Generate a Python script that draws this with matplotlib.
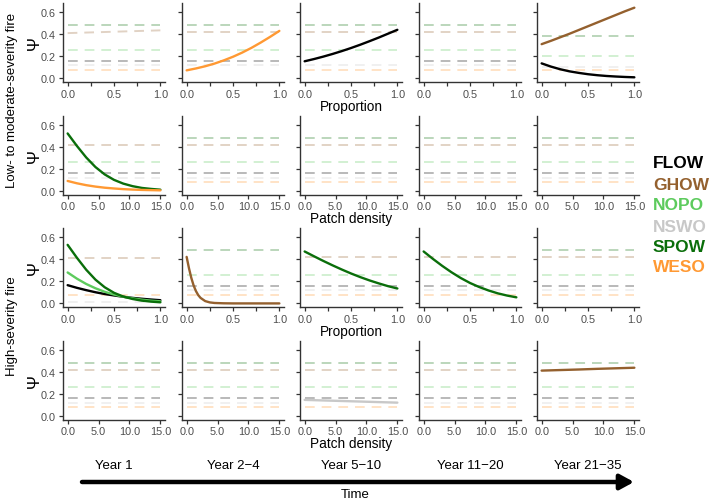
import matplotlib
matplotlib.use("Agg")
import matplotlib.pyplot as plt
from matplotlib.patches import FancyArrowPatch

plt.rcParams['font.family'] = ['Liberation Sans', 'DejaVu Sans']
plt.rcParams['lines.scale_dashes'] = False

# ---------------- data ----------------
species = ['FLOW', 'GHOW', 'NOPO', 'NSWO', 'SPOW', 'WESO']
species_colors = ['#000000', '#94602E', '#5DCB5D', '#C8C8C8', '#0A6E0A', '#FF9933']
periods = ['Year 1', 'Year 2\u22124', 'Year 5\u221210', 'Year 11\u221220', 'Year 21\u221235']
row_covariates = ['Proportion', 'Patch density', 'Proportion', 'Patch density']
fire_groups = ['Low- to moderate-severity fire', 'High-severity fire']

prop_x = [0.0, 0.1, 0.2, 0.3, 0.4, 0.5, 0.6, 0.7, 0.8, 0.9, 1.0]
dens_x = [0.0, 1.5, 3.0, 4.5, 6.0, 7.5, 9.0, 10.5, 12.0, 13.5, 15.0]
prop_x_fine = [0.0, 0.025, 0.05, 0.075, 0.1, 0.125, 0.15, 0.2, 0.25, 0.3, 0.4, 0.5, 0.6, 0.7, 0.8, 0.9, 1.0]
dens_x_coarse = [0.0, 3.0, 6.0, 9.0, 12.0, 15.0]

# Low/moderate severity, proportion
lm_prop_y2_WESO = [0.073, 0.090, 0.110, 0.134, 0.163, 0.196, 0.234, 0.277, 0.325, 0.376, 0.430]
lm_prop_y5_FLOW = [0.155, 0.175, 0.197, 0.221, 0.247, 0.275, 0.305, 0.337, 0.370, 0.405, 0.440]
lm_prop_y21_GHOW = [0.310, 0.340, 0.372, 0.404, 0.438, 0.472, 0.506, 0.540, 0.574, 0.608, 0.640]
lm_prop_y21_FLOW = [0.136, 0.107, 0.083, 0.064, 0.050, 0.038, 0.029, 0.022, 0.017, 0.013, 0.010]
# Low/moderate severity, patch density
lm_dens_y1_SPOW = [0.520, 0.407, 0.303, 0.216, 0.149, 0.100, 0.066, 0.043, 0.027, 0.018, 0.011]
lm_dens_y1_WESO = [0.090, 0.069, 0.052, 0.039, 0.029, 0.022, 0.016, 0.012, 0.009, 0.007, 0.005]
# High severity, proportion
hs_prop_y1_SPOW = [0.530, 0.413, 0.305, 0.215, 0.146, 0.096, 0.062, 0.040, 0.025, 0.016, 0.010]
hs_prop_y1_NOPO = [0.280, 0.224, 0.176, 0.137, 0.105, 0.080, 0.060, 0.046, 0.034, 0.025, 0.019]
hs_prop_y1_FLOW = [0.165, 0.141, 0.120, 0.101, 0.085, 0.072, 0.060, 0.050, 0.042, 0.035, 0.029]
hs_prop_y2_GHOW = [0.421, 0.319, 0.232, 0.163, 0.112, 0.075, 0.050, 0.021, 0.009, 0.004, 0.001,
                   0.0, 0.0, 0.0, 0.0, 0.0, 0.0]
hs_prop_y5_SPOW = [0.470, 0.427, 0.385, 0.345, 0.307, 0.271, 0.238, 0.208, 0.181, 0.156, 0.135]
hs_prop_y11_SPOW = [0.470, 0.403, 0.340, 0.282, 0.230, 0.185, 0.148, 0.117, 0.091, 0.071, 0.055]
# High severity, patch density
hs_dens_y5_NSWO = [0.145, 0.140, 0.135, 0.130, 0.125, 0.120]
hs_dens_y21_GHOW = [0.410, 0.415, 0.420, 0.426, 0.431, 0.436]

# (row, col, species, x values, y values)
solid_curves = [
    (0, 1, 'WESO', prop_x, lm_prop_y2_WESO),
    (0, 2, 'FLOW', prop_x, lm_prop_y5_FLOW),
    (0, 4, 'GHOW', prop_x, lm_prop_y21_GHOW),
    (0, 4, 'FLOW', prop_x, lm_prop_y21_FLOW),
    (1, 0, 'SPOW', dens_x, lm_dens_y1_SPOW),
    (1, 0, 'WESO', dens_x, lm_dens_y1_WESO),
    (2, 0, 'FLOW', prop_x, hs_prop_y1_FLOW),
    (2, 0, 'NOPO', prop_x, hs_prop_y1_NOPO),
    (2, 0, 'SPOW', prop_x, hs_prop_y1_SPOW),
    (2, 1, 'GHOW', prop_x_fine, hs_prop_y2_GHOW),
    (2, 2, 'SPOW', prop_x, hs_prop_y5_SPOW),
    (2, 3, 'SPOW', prop_x, hs_prop_y11_SPOW),
    (3, 2, 'NSWO', dens_x_coarse, hs_dens_y5_NSWO),
    (3, 4, 'GHOW', dens_x_coarse, hs_dens_y21_GHOW),
]

# non-significant (dashed) predictions: start / end value
dashed_base = {'SPOW': (0.48, 0.48), 'GHOW': (0.42, 0.42), 'NOPO': (0.26, 0.26),
               'FLOW': (0.16, 0.16), 'NSWO': (0.12, 0.12), 'WESO': (0.08, 0.08)}
dashed_override = {
    (0, 0): {'GHOW': (0.41, 0.435)},
    (0, 4): {'SPOW': (0.38, 0.38), 'NOPO': (0.20, 0.20), 'NSWO': (0.10, 0.10), 'WESO': (0.075, 0.075)},
    (2, 0): {'GHOW': (0.41, 0.41), 'NSWO': (0.01, 0.01), 'WESO': (0.075, 0.075)},
}

# ---------------- layout ----------------
W, H = 709, 502
fig = plt.figure(figsize=(W / 100, H / 100), dpi=100)
col_left = [63, 182, 300, 419, 537]
row_bottom = [83, 195.5, 308, 420.5]
ax_w, ax_h = 102, 79

color_of = dict(zip(species, species_colors))
ylim = (-0.0325, 0.6825)

for r in range(4):
    is_prop = row_covariates[r] == 'Proportion'
    xmax = 1.0 if is_prop else 15.0
    for c in range(5):
        ax = fig.add_axes([col_left[c] / W, 1 - row_bottom[r] / H, ax_w / W, ax_h / H])
        solid_here = [s for (rr, cc, s, _, _) in solid_curves if rr == r and cc == c]
        ov = dashed_override.get((r, c), {})
        for s in species:
            if s in solid_here:
                continue
            y0, y1 = ov.get(s, dashed_base[s])
            ax.plot([0, xmax], [y0, y1], color=color_of[s], alpha=0.28, lw=1.4,
                    dashes=(7, 5), solid_capstyle='butt', dash_capstyle='butt')
        for (rr, cc, s, xs, ys) in solid_curves:
            if rr == r and cc == c:
                ax.plot(xs, ys, color=color_of[s], lw=1.7, solid_capstyle='round')
        ax.set_xlim(-0.05 * xmax, 1.05 * xmax)
        ax.set_ylim(*ylim)
        if is_prop:
            ax.set_xticks([0, 0.25, 0.5, 0.75, 1.0])
            ax.set_xticklabels(['0.0', '', '0.5', '', '1.0'])
        else:
            ax.set_xticks([0, 5, 10, 15])
            ax.set_xticklabels(['0.0', '5.0', '10.0', '15.0'])
        ax.set_yticks([0, 0.2, 0.4, 0.6])
        if c == 0:
            ax.set_yticklabels(['0.0', '0.2', '0.4', '0.6'])
            ax.set_ylabel('\u03a8', fontsize=12, rotation=90)
            ax.yaxis.set_label_coords(-0.21, 0.5)
        else:
            ax.set_yticklabels([])
        for side in ['top', 'right']:
            ax.spines[side].set_visible(False)
        for side in ['left', 'bottom']:
            ax.spines[side].set_color('#333333')
            ax.spines[side].set_linewidth(1.0)
        ax.tick_params(length=3, width=0.9, color='#333333', labelcolor='#4D4D4D',
                       labelsize=7.8, pad=2)
        ax.set_facecolor('none')
    fig.text((col_left[2] + ax_w / 2) / W, 1 - (row_bottom[r] + 24) / H, row_covariates[r],
             ha='center', va='center', fontsize=9.8)

# fire group labels
fig.text(12 / W, 1 - 100 / H, fire_groups[0], rotation=90, ha='center', va='center', fontsize=9.5)
fig.text(12 / W, 1 - 326 / H, fire_groups[1], rotation=90, ha='center', va='center', fontsize=9.5)

# period labels
for c, p in enumerate(periods):
    fig.text((col_left[c] + ax_w / 2) / W, 1 - 466 / H, p, ha='center', va='center', fontsize=9.5)

# time arrow
arrow = FancyArrowPatch((82 / W, 1 - 483 / H), (634 / W, 1 - 483 / H), transform=fig.transFigure,
                        arrowstyle='-|>,head_length=0.55,head_width=0.3', mutation_scale=15,
                        lw=3.2, color='black', shrinkA=0, shrinkB=0)
fig.patches.append(arrow)
fig.text(355 / W, 1 - 495 / H, 'Time', ha='center', va='center', fontsize=9.5)

# legend as colored labels
legend_y = [164, 185, 206, 227, 248, 268]
for s, col, yy in zip(species, species_colors, legend_y):
    fig.text(653 / W, 1 - yy / H, s, color=col, fontsize=12.5, fontweight='bold',
             ha='left', va='center')

fig.savefig('out.png', dpi=100)
